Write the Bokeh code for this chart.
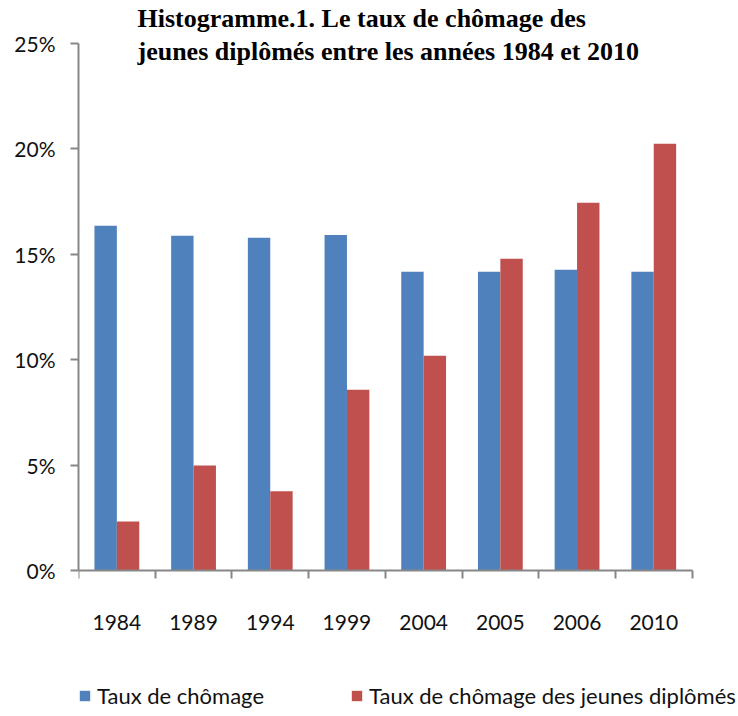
from bokeh.plotting import figure
from bokeh.models import (ColumnDataSource, Range1d, FixedTicker, NumeralTickFormatter,
                          Label, Legend, LegendItem)
from bokeh.embed import file_html
from bokeh.resources import INLINE

years = ["1984", "1989", "1994", "1999", "2004", "2005", "2006", "2010"]
taux_chomage = [16.35, 15.88, 15.78, 15.92, 14.17, 14.17, 14.27, 14.17]
taux_jeunes = [2.32, 4.98, 3.76, 8.58, 10.19, 14.79, 17.44, 20.24]
y_ticks = [0, 0.05, 0.10, 0.15, 0.20, 0.25]
series_names = ["Taux de chômage", "Taux de chômage des jeunes diplômés"]
title_lines = ["Histogramme.1. Le taux de chômage des",
               "jeunes diplômés entre les années 1984 et 2010"]

BLUE = "#4F81BD"
RED = "#C0504D"
AXIS = "#878787"
FONT = "Lato"
TXT = "#111111"

n = len(years)
centers = [i + 0.5 for i in range(n)]
bw = 0.292
src = ColumnDataSource(dict(
    xb=[c - bw / 2 for c in centers],
    xr=[c + bw / 2 for c in centers],
    blue=[v / 100 for v in taux_chomage],
    red=[v / 100 for v in taux_jeunes],
))

W, H = 738, 716
LEFT = 78
cat_px = 76.7
zero_px = 570      # pixel row of 0 %
top_px = 43        # pixel row of 25 %
per = (zero_px - top_px) / 0.25
y0 = -(H - zero_px) / per
y1 = 0.25 + top_px / per
x1 = (W - LEFT) / cat_px

p = figure(width=W, height=H, output_backend="svg", toolbar_location=None,
           x_range=Range1d(0, x1), y_range=Range1d(y0, y1),
           min_border_left=LEFT, min_border_right=0, min_border_top=0, min_border_bottom=0)
p.outline_line_color = None
p.xgrid.visible = False
p.ygrid.visible = False
p.background_fill_color = "white"
p.border_fill_color = "white"

rb = p.vbar(x="xb", top="blue", bottom=0, width=bw, source=src, fill_color=BLUE, line_color=None)
rr = p.vbar(x="xr", top="red", bottom=0, width=bw, source=src, fill_color=RED, line_color=None)

# x axis drawn at 0 %
xa = p.xaxis[0]
xa.fixed_location = 0
xa.bounds = (0, n)
xa.ticker = FixedTicker(ticks=centers, minor_ticks=list(range(n + 1)))
xa.major_label_overrides = {c: y for c, y in zip(centers, years)}
xa.major_tick_line_color = None
xa.major_tick_out = 0
xa.major_tick_in = 0
xa.minor_tick_line_color = AXIS
xa.minor_tick_line_width = 2
xa.minor_tick_out = 8
xa.minor_tick_in = 0
xa.axis_line_color = AXIS
xa.axis_line_width = 2
xa.major_label_standoff = 36
xa.major_label_text_font = FONT
xa.major_label_text_font_size = "21px"
xa.major_label_text_color = TXT

# y axis
ya = p.yaxis[0]
ya.ticker = FixedTicker(ticks=y_ticks, minor_ticks=[])
ya.formatter = NumeralTickFormatter(format="0%")
ya.bounds = (0, 0.25)
ya.axis_line_color = AXIS
ya.axis_line_width = 2
ya.major_tick_line_color = AXIS
ya.major_tick_line_width = 2
ya.major_tick_out = 8
ya.major_tick_in = 0
ya.minor_tick_line_color = None
ya.major_label_standoff = 15
ya.major_label_text_font = FONT
ya.major_label_text_font_size = "21px"
ya.major_label_text_color = TXT

# title (two lines)
for i, line in enumerate(title_lines):
    p.add_layout(Label(x=59, y=H - 18 - 33 * i, x_units="screen", y_units="screen",
                       text=line, text_font="Liberation Serif", text_font_style="bold",
                       text_font_size="26px", text_color="black",
                       text_align="left", text_baseline="alphabetic"))

legend = Legend(items=[LegendItem(label=series_names[0], renderers=[rb]),
                       LegendItem(label=series_names[1], renderers=[rr])],
                orientation="horizontal", location=(0, 7),
                padding=0, margin=0, spacing=86, label_standoff=6,
                glyph_width=13, glyph_height=13, label_height=20,
                label_text_font=FONT, label_text_font_size="22px",
                label_text_color=TXT,
                border_line_color=None, background_fill_alpha=0)
p.add_layout(legend)

open("out.html", "w").write(file_html(p, INLINE))
